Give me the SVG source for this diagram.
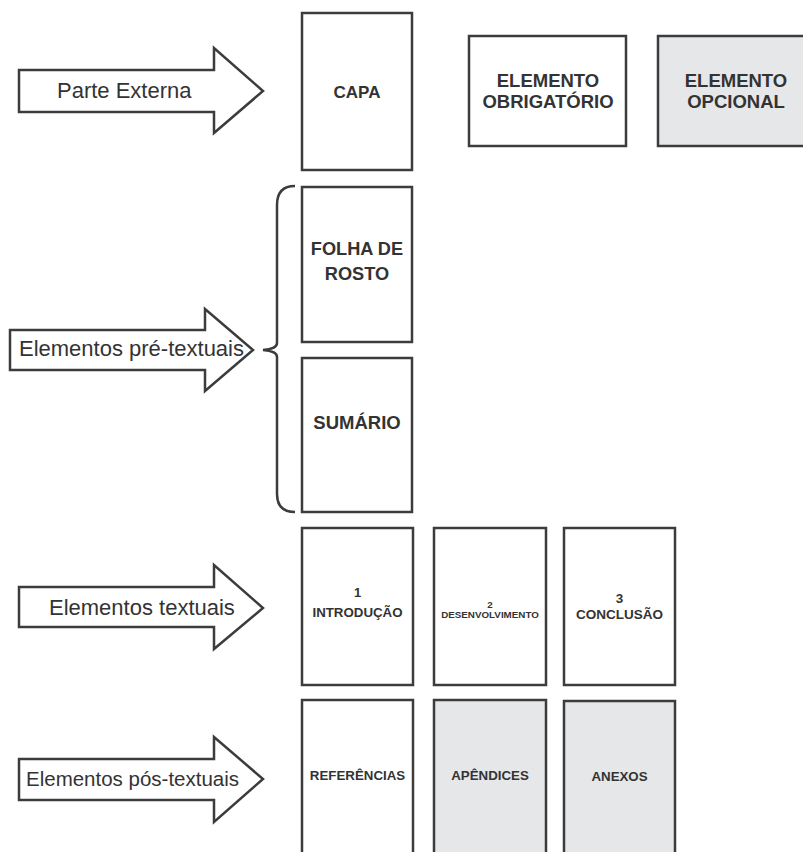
<svg xmlns="http://www.w3.org/2000/svg" width="803" height="852" viewBox="0 0 803 852">
  <style>
    .box { fill: #ffffff; stroke: #3c3c3c; stroke-width: 2.5; }
    .opt { fill: #e6e7e8; }
    .arrow { fill: #ffffff; stroke: #3c3c3c; stroke-width: 2.5; stroke-linejoin: miter; }
    .brace { fill: none; stroke: #3c3c3c; stroke-width: 2.5; }
    text { font-family: "Liberation Sans", Arial, sans-serif; fill: #333333; }
    .lbl { font-size: 22px; }
    .b { font-weight: bold; text-anchor: middle; }
  </style>
  <rect width="803" height="852" fill="#ffffff"/>

  <g id="arrow-parte-externa">
    <polygon class="arrow" points="19,70 214,70 214,48 263,91 214,133 214,112 19,112"/>
    <text class="lbl" x="57" y="98">Parte Externa</text>
  </g>
  <g id="arrow-pre-textuais">
    <polygon class="arrow" points="10,330 205,330 205,309 253,350 205,391 205,370 10,370"/>
    <text class="lbl" x="19" y="356">Elementos pré-textuais</text>
  </g>
  <g id="arrow-textuais">
    <polygon class="arrow" points="19,587 214,587 214,565 263,608 214,649 214,627 19,627"/>
    <text class="lbl" x="49" y="615">Elementos textuais</text>
  </g>
  <g id="arrow-pos-textuais">
    <polygon class="arrow" points="19,759 214,759 214,737 263,779 214,822 214,800 19,800"/>
    <text class="lbl" x="26" y="786" style="font-size:20.5px">Elementos pós-textuais</text>
  </g>

  <g id="connectors">
    <path class="brace" d="M295,186 Q277,186 277,205 L277,343 Q277,349 263,350 Q277,351 277,357 L277,494 Q277,512 295,512"/>
  </g>

  <g id="capa">
    <rect class="box" x="302" y="13" width="110" height="157"/>
    <text class="b" x="357" y="98" style="font-size:17px">CAPA</text>
  </g>
  <g id="legenda-obrigatorio">
    <rect class="box" x="469" y="36" width="157" height="110"/>
    <text class="b" x="548" y="87" style="font-size:18.5px">ELEMENTO</text>
    <text class="b" x="548" y="108" style="font-size:18.5px">OBRIGATÓRIO</text>
  </g>
  <g id="legenda-opcional">
    <rect class="box opt" x="658" y="36" width="160" height="110"/>
    <text class="b" x="736" y="87" style="font-size:18.5px">ELEMENTO</text>
    <text class="b" x="736" y="108" style="font-size:18.5px">OPCIONAL</text>
  </g>
  <g id="folha-de-rosto">
    <rect class="box" x="302" y="187" width="110" height="155"/>
    <text class="b" x="357" y="255" style="font-size:18.2px">FOLHA DE</text>
    <text class="b" x="357" y="280" style="font-size:18.2px">ROSTO</text>
  </g>
  <g id="sumario">
    <rect class="box" x="302" y="358" width="110" height="154"/>
    <text class="b" x="357" y="429" style="font-size:18.5px">SUMÁRIO</text>
  </g>
  <g id="introducao">
    <rect class="box" x="302" y="528" width="111" height="157"/>
    <text class="b" x="357.5" y="597" style="font-size:13px">1</text>
    <text class="b" x="357.5" y="617" style="font-size:13.3px">INTRODUÇÃO</text>
  </g>
  <g id="desenvolvimento">
    <rect class="box" x="434" y="528" width="112" height="157"/>
    <text class="b" x="490" y="607.5" style="font-size:9.8px">2</text>
    <text class="b" x="490" y="617.5" style="font-size:9.8px">DESENVOLVIMENTO</text>
  </g>
  <g id="conclusao">
    <rect class="box" x="564" y="528" width="111" height="157"/>
    <text class="b" x="619.5" y="603" style="font-size:13.5px">3</text>
    <text class="b" x="619.5" y="619" style="font-size:13.5px">CONCLUSÃO</text>
  </g>
  <g id="referencias">
    <rect class="box" x="302" y="700" width="111" height="170"/>
    <text class="b" x="357.5" y="780" style="font-size:13.3px">REFERÊNCIAS</text>
  </g>
  <g id="apendices">
    <rect class="box opt" x="434" y="700" width="112" height="170"/>
    <text class="b" x="490" y="780" style="font-size:13.3px">APÊNDICES</text>
  </g>
  <g id="anexos">
    <rect class="box opt" x="564" y="701" width="111" height="170"/>
    <text class="b" x="619.5" y="781" style="font-size:13.3px">ANEXOS</text>
  </g>
</svg>
